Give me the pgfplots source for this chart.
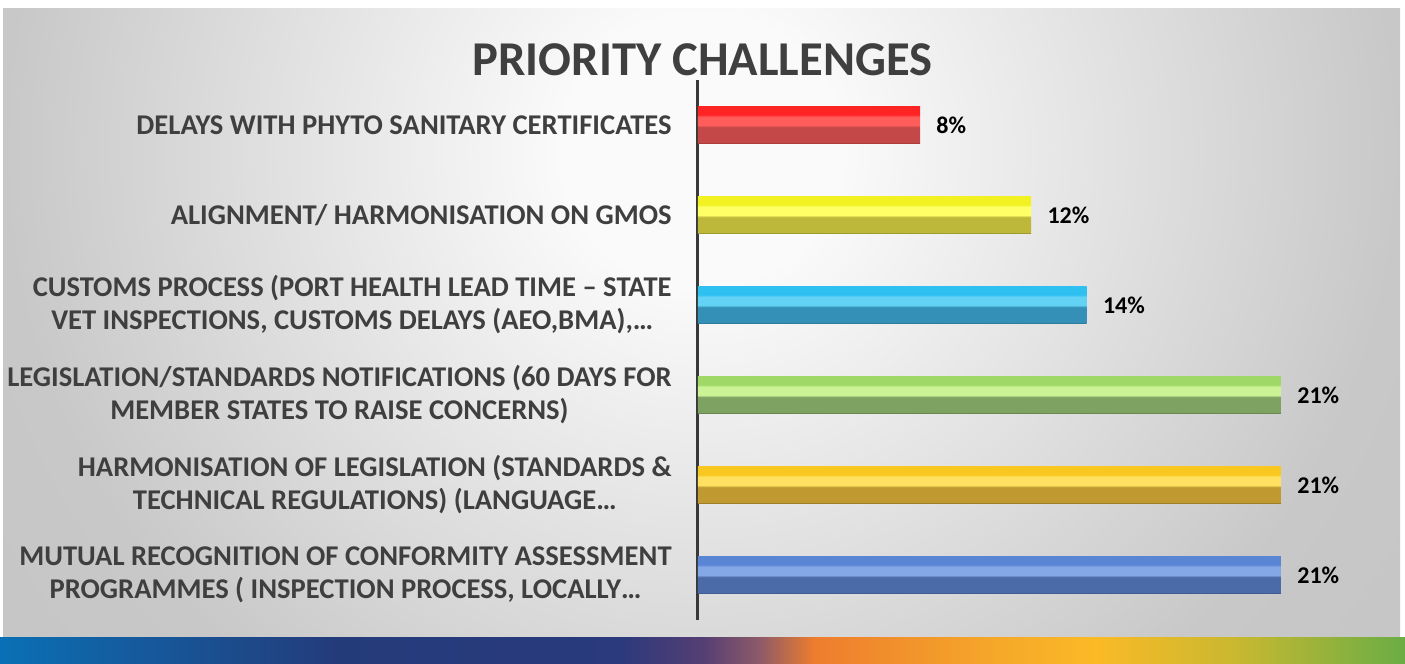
\documentclass[border=0pt]{standalone}
\usepackage{pgfplots}
\pgfplotsset{compat=1.18}
\usepackage{fontspec}
\setmainfont{Carlito}
\definecolor{txt}{HTML}{3F3F3F}
\definecolor{axln}{HTML}{383838}
\definecolor{bgin}{HTML}{FAFAFA}
\definecolor{bgmid}{HTML}{C8C8C8}
\definecolor{bgout}{HTML}{BEBEBE}
\pgfdeclareradialshading{bgrad}{\pgfpoint{0bp}{0bp}}{color(0bp)=(bgin); color(5bp)=(bgin); color(25bp)=(bgmid); color(50bp)=(bgout)}
% strip colours
\definecolor{s1}{HTML}{0A70B5}
\definecolor{s2}{HTML}{243B7A}
\definecolor{s3}{HTML}{2A3A7C}
\definecolor{s4}{HTML}{553E74}
\definecolor{s5}{HTML}{8C5A68}
\definecolor{s6}{HTML}{EE7D2E}
\definecolor{s7}{HTML}{F5A52A}
\definecolor{s8}{HTML}{FBBA26}
\definecolor{s9}{HTML}{C8B830}
\definecolor{s10}{HTML}{6AAD45}
\pgfdeclarehorizontalshading{strip}{100bp}{color(0bp)=(s1); color(25bp)=(s1); color(37bp)=(s2); color(47bp)=(s3); color(50bp)=(s4); color(52bp)=(s5); color(54bp)=(s6); color(60bp)=(s7); color(64bp)=(s8); color(69bp)=(s9); color(75bp)=(s10); color(100bp)=(s10)}
% bar shadings: name, base(top), highlight, dark, edge
\newcommand\barshading[5]{%
  \pgfdeclareverticalshading{#1}{100bp}{color(0bp)=(#5); color(25bp)=(#5); color(27bp)=(#4); color(47bp)=(#4); color(50bp)=(#3); color(61bp)=(#3); color(64bp)=(#2); color(75bp)=(#2); color(100bp)=(#2)}}
\definecolor{rA}{HTML}{FF2424}\definecolor{rB}{HTML}{FF5C5C}\definecolor{rC}{HTML}{C44848}\definecolor{rD}{HTML}{9E3535}
\definecolor{yA}{HTML}{F2F222}\definecolor{yB}{HTML}{FFFF66}\definecolor{yC}{HTML}{BDB83A}\definecolor{yD}{HTML}{8E8A2A}
\definecolor{cA}{HTML}{2EC0F0}\definecolor{cB}{HTML}{62D2F5}\definecolor{cC}{HTML}{3590B8}\definecolor{cD}{HTML}{2A7090}
\definecolor{gA}{HTML}{A0D868}\definecolor{gB}{HTML}{CCF296}\definecolor{gC}{HTML}{7DA262}\definecolor{gD}{HTML}{5E7A48}
\definecolor{oA}{HTML}{F8C820}\definecolor{oB}{HTML}{FFE060}\definecolor{oC}{HTML}{C09A30}\definecolor{oD}{HTML}{907020}
\definecolor{bA}{HTML}{5A85D5}\definecolor{bB}{HTML}{84A8E6}\definecolor{bC}{HTML}{4A6AA8}\definecolor{bD}{HTML}{3A5488}
\barshading{redbar}{rA}{rB}{rC}{rD}
\barshading{yelbar}{yA}{yB}{yC}{yD}
\barshading{cyabar}{cA}{cB}{cC}{cD}
\barshading{grnbar}{gA}{gB}{gC}{gD}
\barshading{orabar}{oA}{oB}{oC}{oD}
\barshading{blubar}{bA}{bB}{bC}{bD}
\begin{document}
\begin{tikzpicture}
% page and background panel
\fill[white] (0pt,0pt) rectangle (702.5pt,-332pt);
\begin{scope}
\clip (1.5pt,-4pt) rectangle (700pt,-318.5pt);
\shade[shading=bgrad] (1.5pt,263pt) rectangle (700pt,-413pt);
\end{scope}
\shade[shading=strip] (0pt,-318.5pt) rectangle (702.5pt,-332pt);
\node[font=\bfseries\fontsize{24.3}{28}\selectfont, text=txt] at (351.25pt,-30pt) {PRIORITY CHALLENGES};
\begin{axis}[
  at={(349pt,-310pt)}, anchor=south west,
  scale only axis, width=347pt, height=270pt,
  xmin=0, xmax=25, ymin=-0.5, ymax=5.5,
  axis x line=none,
  axis y line*=left,
  y axis line style={line width=1.5pt, color=axln},
  major tick length=0pt,
  ytick={0,1,2,3,4,5},
  yticklabels={
    {MUTUAL RECOGNITION OF CONFORMITY ASSESSMENT\\PROGRAMMES ( INSPECTION PROCESS, LOCALLY…},
    {HARMONISATION OF LEGISLATION (STANDARDS \&\\TECHNICAL REGULATIONS) (LANGUAGE…},
    {LEGISLATION/STANDARDS NOTIFICATIONS (60 DAYS FOR\\MEMBER STATES TO RAISE CONCERNS)},
    {CUSTOMS PROCESS (PORT HEALTH LEAD TIME – STATE\\VET INSPECTIONS, CUSTOMS DELAYS (AEO,BMA),…},
    {ALIGNMENT/ HARMONISATION ON GMOS},
    {DELAYS WITH PHYTO SANITARY CERTIFICATES}},
  yticklabel style={font=\bfseries\fontsize{14.3}{16.5}\selectfont, text=txt, align=center, inner sep=0pt, xshift=-13pt},
  xbar, bar width=18.5pt, bar shift=0pt,
  clip=false,
  /pgf/number format/assume math mode=true,
]
\addplot[draw=none, shading=blubar] coordinates {(21,0)};
\addplot[draw=none, shading=orabar] coordinates {(21,1)};
\addplot[draw=none, shading=grnbar] coordinates {(21,2)};
\addplot[draw=none, shading=cyabar] coordinates {(14,3)};
\addplot[draw=none, shading=yelbar] coordinates {(12,4)};
\addplot[draw=none, shading=redbar] coordinates {(8,5)};
\addplot[draw=none, fill=none,
  point meta=x,
  nodes near coords={\pgfmathprintnumber{\pgfplotspointmeta}\%},
  nodes near coords style={font=\bfseries\fontsize{12}{14}\selectfont, text=black, anchor=west, inner sep=0pt, xshift=8pt}]
  coordinates {(21,0) (21,1) (21,2) (14,3) (12,4) (8,5)};
\end{axis}
\end{tikzpicture}
\end{document}
